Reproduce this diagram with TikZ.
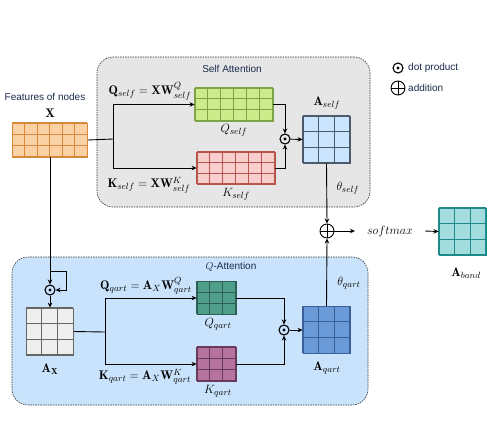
\documentclass[tikz,border=0pt]{standalone}
\usepackage{amsmath}
\usepackage{amssymb}
\usepackage{fontspec}
\newfontfamily\sansf{Liberation Sans}
\usetikzlibrary{arrows.meta}

\definecolor{xfill}{HTML}{FAD0A5}
\definecolor{xline}{HTML}{D9893A}
\definecolor{qsfill}{HTML}{CDEB8B}
\definecolor{qsline}{HTML}{7DA544}
\definecolor{ksfill}{HTML}{F8CECC}
\definecolor{ksline}{HTML}{B85450}
\definecolor{asfill}{HTML}{CCE5FF}
\definecolor{asline}{HTML}{4A5A6A}
\definecolor{abfill}{HTML}{A3DCDC}
\definecolor{abline}{HTML}{1F8A8A}
\definecolor{qqfill}{HTML}{4E9E8A}
\definecolor{qqline}{HTML}{2D5F55}
\definecolor{kqfill}{HTML}{B5739D}
\definecolor{kqline}{HTML}{6A3A5A}
\definecolor{aqfill}{HTML}{6A9BD8}
\definecolor{aqline}{HTML}{3B5F9A}
\definecolor{axfill}{HTML}{EEEEEE}
\definecolor{axline}{HTML}{666666}
\definecolor{selfbg}{HTML}{E6E6E6}
\definecolor{qbg}{HTML}{C8E3FB}
\definecolor{txtblue}{HTML}{1A2A4A}

\tikzset{
  arr/.style={line width=0.9pt,-{Stealth[length=5pt,width=4.5pt]}},
  conn/.style={line width=0.9pt},
  mat/.style={rectangle,inner sep=0pt,line width=0.8pt},
  attbox/.style={rectangle,rounded corners=16pt,draw=black!80,line width=0.6pt,
    dash pattern=on 1.5pt off 1pt},
  dotop/.style={circle,draw,line width=1.1pt,minimum size=10pt,inner sep=0pt,
    path picture={\fill (path picture bounding box.center) circle (1.7pt);}},
  addop/.style={circle,draw,line width=0.9pt,minimum size=14pt,inner sep=0pt,
    path picture={\draw[line width=0.9pt] (path picture bounding box.north) -- (path picture bounding box.south)
      (path picture bounding box.west) -- (path picture bounding box.east);}},
  lbl/.style={font=\sansf\fontsize{10}{12}\selectfont,text=txtblue,inner sep=1pt},
  mlbl/.style={font=\fontsize{12.5}{15}\selectfont,inner sep=1pt}
}

% name, x, y, cols, rows, cell w, cell h, fill, line
\newcommand{\gridmat}[9]{%
  \node[mat,fill=#8,draw=#9,minimum width=#4*#6pt,minimum height=#5*#7pt] (#1) at (#2,#3) {};
  \draw[#9,line width=0.8pt,shift={(#1.north west)},xstep=#6pt,ystep=#7pt] (0pt,0pt) grid (#4*#6pt,-#5*#7pt);
}

\begin{document}
\begin{tikzpicture}[x=1pt,y=-1pt]
\useasboundingbox (0,0) rectangle (497,424);

% boxes
\node[attbox,fill=selfbg,minimum width=273pt,minimum height=150pt] (sabox) at (233.5,132) {};
\node[attbox,fill=qbg,minimum width=356pt,minimum height=148pt] (qabox) at (190,331) {};
\node[lbl] (satitle) at (232,69) {Self Attention};
\node[lbl] (qatitle) at (231,267) {$Q$-Attention};

% input
\node[lbl] (feat) at (45,97) {Features of nodes};
\node[mlbl] (xlab) at (50,113) {$\mathbf{X}$};
\gridmat{xm}{50}{140}{6}{3}{12.5}{11.33}{xfill}{xline}

% self attention
\gridmat{qs}{234}{104.5}{6}{3}{13}{11}{qsfill}{qsline}
\gridmat{ks}{236}{168}{6}{3}{13}{10.67}{ksfill}{ksline}
\gridmat{as}{326.5}{139.5}{3}{3}{15.67}{15.67}{asfill}{asline}
\node[mlbl] (qslab) at (234,130) {$Q_{self}$};
\node[mlbl] (kslab) at (236,194) {$K_{self}$};
\node[mlbl] (aslab) at (327,103) {$\mathbf{A}_{self}$};
\node[mlbl] (qseq) at (150,91) {$\mathbf{Q}_{self}=\mathbf{X}\mathbf{W}^{Q}_{self}$};
\node[mlbl] (kseq) at (149,185) {$\mathbf{K}_{self}=\mathbf{X}\mathbf{W}^{K}_{self}$};
\node[dotop] (d1) at (285,139) {};
\coordinate (split1) at (113,139);
\draw[conn] (xm.east) -- (split1);
\draw[arr] (split1) |- (qs.west);
\draw[arr] (split1) |- (ks.west);
\draw[arr] (qs.east) -| (d1.north);
\draw[arr] (ks.east) -| (d1.south);
\draw[arr] (d1) -- (as.west);

% combine
\node[addop] (plus) at (327,231) {};
\node[mlbl,inner xsep=12pt] (sm) at (390,231) {$softmax$};
\gridmat{ab}{462.5}{231.5}{3}{3}{15.67}{15.67}{abfill}{abline}
\node[mlbl] (ablab) at (466,273) {$\mathbf{A}_{band}$};
\draw[arr] (as.south) -- (plus.north);
\node[mlbl] (thself) at (348,188) {$\theta_{self}$};
\draw[arr] (plus.east) -- (sm.west);
\draw[arr] (sm.east) -- (ab.west);

% Q-attention
\node[dotop] (d2) at (50,290) {};
\coordinate (lp0) at (50,271);
\coordinate (lp1) at (66,271);
\draw[arr] (xm.south) -- (d2.north);
\draw[arr] (lp0) -- (lp1) |- (d2.east);
\gridmat{ax}{50}{331.5}{3}{3}{15.67}{15.67}{axfill}{axline}
\node[mlbl] (axlab) at (50,369) {$\mathbf{A}_{\mathbf{X}}$};
\draw[arr] (d2.south) -- (ax.north);
\gridmat{qq}{216.5}{298}{3}{3}{13}{11}{qqfill}{qqline}
\gridmat{kq}{216.5}{364}{3}{3}{13}{11.33}{kqfill}{kqline}
\gridmat{aq}{326.5}{330}{3}{3}{15.67}{15.67}{aqfill}{aqline}
\node[mlbl] (qqlab) at (218,324) {$Q_{qart}$};
\node[mlbl] (kqlab) at (218,391) {$K_{qart}$};
\node[mlbl] (aqlab) at (327,368) {$\mathbf{A}_{qart}$};
\node[mlbl] (qqeq) at (146,286) {$\mathbf{Q}_{qart}=\mathbf{A}_{X}\mathbf{W}^{Q}_{qart}$};
\node[mlbl] (kqeq) at (145,377) {$\mathbf{K}_{qart}=\mathbf{A}_{X}\mathbf{W}^{K}_{qart}$};
\coordinate (split2) at (105,332);
\draw[conn] (ax.east) -- (split2);
\draw[arr] (split2) |- (qq.west);
\draw[arr] (split2) |- (kq.west);
\node[dotop] (d3) at (284,330) {};
\draw[arr] (qq.east) -| (d3.north);
\draw[arr] (kq.east) -| (d3.south);
\draw[arr] (d3) -- (aq.west);
\draw[arr] (aq.north) -- (plus.south);
\node[mlbl] (thqart) at (349,283) {$\theta_{qart}$};

% legend
\node[dotop] (lgdot) at (398,68) {};
\node[lbl,anchor=west] (lgdottxt) at (407,68) {dot product};
\node[addop] (lgadd) at (398,88) {};
\node[lbl,anchor=west] (lgaddtxt) at (407,88) {addition};
\end{tikzpicture}
\end{document}
